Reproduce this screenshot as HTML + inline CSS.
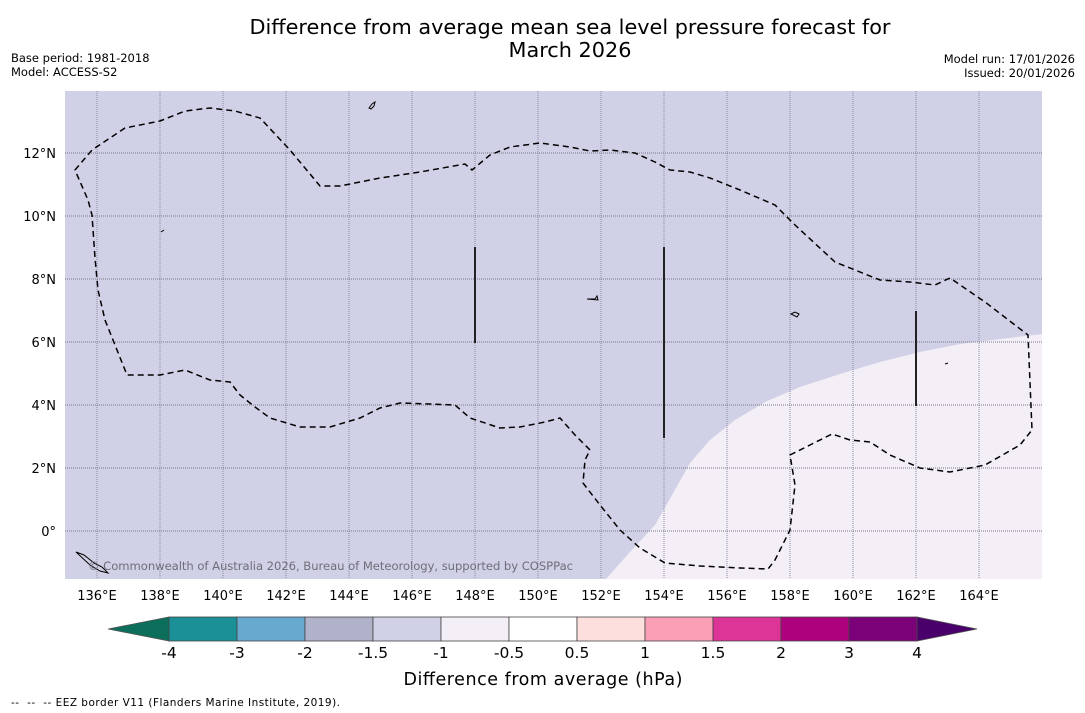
<!DOCTYPE html>
<html><head><meta charset="utf-8"><style>
body{margin:0;background:#fff;width:1085px;height:713px;overflow:hidden;font-family:"DejaVu Sans","Liberation Sans",sans-serif}
svg{display:block}
</style></head><body>
<svg id="chart" width="1085" height="713" viewBox="0 0 1085 713" xmlns="http://www.w3.org/2000/svg" font-family="DejaVu Sans, Liberation Sans, sans-serif">
<text x="570" y="34" font-size="20.8" text-anchor="middle">Difference from average mean sea level pressure forecast for</text>
<text x="570" y="57" font-size="20.8" text-anchor="middle">March 2026</text>
<text x="11" y="62" font-size="11.5">Base period: 1981-2018</text>
<text x="11" y="76" font-size="11.5">Model: ACCESS-S2</text>
<text x="1075" y="63" font-size="11.5" text-anchor="end">Model run: 17/01/2026</text>
<text x="1075" y="77" font-size="11.5" text-anchor="end">Issued: 20/01/2026</text>
<g id="map">
<rect x="65" y="91" width="977" height="488" fill="#d0d1e6"/>
<path d="M606,579 L630,552 L655,525 L672,495 L690,463 L710,440 L735,420 L765,402 L800,387 L840,374 L880,362 L920,352 L960,344 L1000,339 L1042,334 L1042,579 Z" fill="#f4eef7"/>
<g id="grid"></g>
<path fill="none" stroke="#000" stroke-width="1.5" stroke-dasharray="6,4" d="M75,170 L92,150 L125,128 L160,121 L185,111 L210,108 L235,111 L260,118 L290,150 L320,186 L340,186 L380,178 L420,172 L465,164 L472,170 L490,155 L510,147 L540,143 L570,147 L590,151 L610,150 L635,153 L655,162 L670,170 L690,172 L710,178 L740,190 L775,205 L795,225 L835,262 L880,280 L910,282 L935,285 L950,278 L985,302 L1028,335 L1032,430 L1020,445 L985,465 L950,472 L920,468 L890,455 L870,442 L850,440 L832,434 L810,445 L790,455 L795,485 L790,530 L775,560 L768,569 L740,568 L700,566 L665,563 L640,548 L620,530 L600,505 L583,483 L585,460 L590,450 L575,435 L560,418 L545,422 L520,427 L500,428 L470,418 L455,405 L430,404 L400,403 L380,408 L360,418 L330,427 L300,427 L270,418 L255,407 L240,395 L230,382 L210,380 L185,370 L160,375 L127,375 L115,345 L105,320 L98,290 L95,258 L92,215 L88,200 Z"/>
<line x1="475" y1="247" x2="475" y2="343" stroke="#222" stroke-width="2"/>
<line x1="664" y1="247" x2="664" y2="438" stroke="#222" stroke-width="2"/>
<line x1="916" y1="311" x2="916" y2="406" stroke="#222" stroke-width="2"/>
<g fill="none" stroke="#000" stroke-width="1">
<path d="M369,108 l3,-4 l3,-2 l-1,4 l-3,3 z"/><path d="M76,552 l8,3 l10,8 l8,4 l6,6 l-8,-2 l-10,-6 z"/>
<path d="M587,299 l8,0 l2,-3 l1,4 z"/><path d="M791,314 l4,-2 l4,2 l-2,3 z"/><path d="M161,232 l3,-2"/><path d="M945,364 l3,-1"/>
</g>
<text x="88" y="570" font-size="11.6" fill="#6e6e7a" textLength="485">© Commonwealth of Australia 2026, Bureau of Meteorology, supported by COSPPac</text>
</g>
<g id="xlabels"></g><g id="ylabels"></g>
<g id="colorbar"></g>
<text x="543" y="685" font-size="17.5" text-anchor="middle" textLength="279">Difference from average (hPa)</text>
<text x="11" y="706" font-size="10.5" textLength="329" xml:space="preserve">--  --  -- EEZ border V11 (Flanders Marine Institute, 2019).</text>
</svg>
<script>
const lonTicks=[136,138,140,142,144,146,148,150,152,154,156,158,160,162,164];
const latTicks=[0,2,4,6,8,10,12];
const cbLevels=["-4","-3","-2","-1.5","-1","-0.5","0.5","1","1.5","2","3","4"];
const cbColors=["#1b9096","#67a9cf","#b0b2c9","#d0d1e6","#f4eef7","#ffffff","#fde0dd","#fa9fb5","#dd3497","#ae017e","#7a0177"];
const cbExtend=["#0b6e5a","#49006a"];
const NS="http://www.w3.org/2000/svg";
const X=lon=>97+(lon-136)*31.5, Y=lat=>531-lat*31.5;
function mk(t,a,p){const e=document.createElementNS(NS,t);for(const k in a)e.setAttribute(k,a[k]);p.appendChild(e);return e;}
const grid=document.getElementById('grid'),xl=document.getElementById('xlabels'),yl=document.getElementById('ylabels'),cb=document.getElementById('colorbar');
lonTicks.forEach(l=>{const ln=mk('line',{x1:X(l),x2:X(l),y1:91,y2:579,stroke:'#8a8aa0','stroke-width':1,'stroke-dasharray':'1,1'},grid);


const t=mk('text',{x:X(l),y:600,'font-size':13,'text-anchor':'middle'},xl);t.textContent=l+'°E';

});
latTicks.forEach(l=>{const ln=mk('line',{x1:65,x2:1042,y1:Y(l),y2:Y(l),stroke:'#77778a','stroke-width':1,'stroke-dasharray':'1,1'},grid);


const t=mk('text',{x:56,y:Y(l)+5,'font-size':13,'text-anchor':'end'},yl);t.textContent=l===0?'0°':l+'°N';

});
const x0=169,w=68,y0=617,h=24;
const le=mk('polygon',{points:`${x0},${y0} ${x0},${y0+h} 108,${y0+h/2}`,fill:cbExtend[0],stroke:'#555','stroke-width':0.8},cb);


const xe=x0+cbColors.length*w;
const re=mk('polygon',{points:`${xe},${y0} ${xe},${y0+h} 977,${y0+h/2}`,fill:cbExtend[1],stroke:'#555','stroke-width':0.8},cb);


cbColors.forEach((c,i)=>{const r=mk('rect',{x:x0+i*w,y:y0,width:w,height:h,fill:c,stroke:'#444','stroke-width':0.8},cb);

});
cbLevels.forEach((v,i)=>{const t=mk('text',{x:x0+i*w,y:658,'font-size':15.5,'text-anchor':'middle'},cb);t.textContent=v;

});
</script>
</body></html>
